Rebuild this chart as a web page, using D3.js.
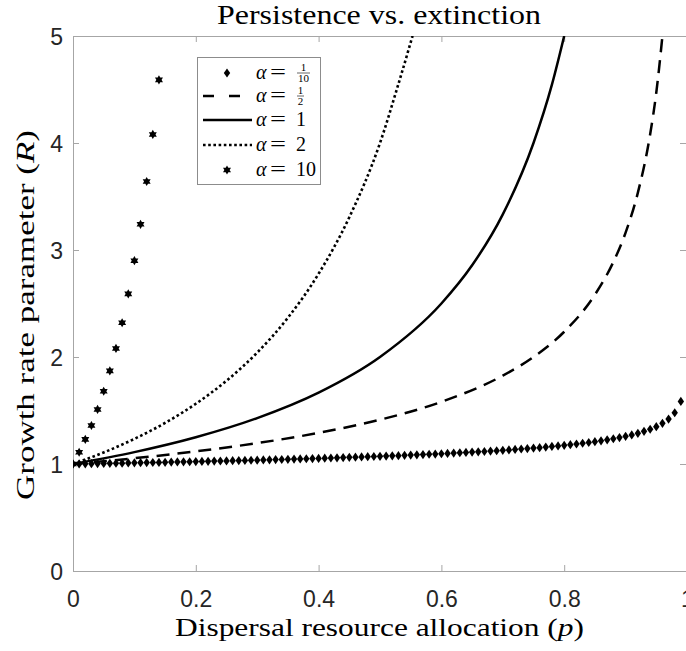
<!DOCTYPE html>
<html>
<head>
<meta charset="utf-8">
<script src="https://cdn.jsdelivr.net/npm/d3@7"></script>
<style>
  html, body { margin: 0; padding: 0; background: #fff; }
  svg { display: block; }
</style>
</head>
<body>
<div id="chart"></div>
<script>
// p grid and R values
const pTenth = [0,0.01,0.02,0.03,0.04,0.05,0.06,0.07,0.08,0.09,0.1,0.11,0.12,0.13,0.14,0.15,0.16,0.17,0.18,0.19,
  0.2,0.21,0.22,0.23,0.24,0.25,0.26,0.27,0.28,0.29,0.3,0.31,0.32,0.33,0.34,0.35,0.36,0.37,0.38,0.39,
  0.4,0.41,0.42,0.43,0.44,0.45,0.46,0.47,0.48,0.49,0.5,0.51,0.52,0.53,0.54,0.55,0.56,0.57,0.58,0.59,
  0.6,0.61,0.62,0.63,0.64,0.65,0.66,0.67,0.68,0.69,0.7,0.71,0.72,0.73,0.74,0.75,0.76,0.77,0.78,0.79,
  0.8,0.81,0.82,0.83,0.84,0.85,0.86,0.87,0.88,0.89,0.9,0.91,0.92,0.93,0.94,0.95,0.96,0.97,0.98,0.99];
const rTenth = [1.000,1.001,1.002,1.003,1.004,1.005,1.006,1.007,1.008,1.010,1.011,1.012,1.013,1.014,1.015,1.016,1.018,1.019,1.020,1.021,
  1.023,1.024,1.025,1.027,1.028,1.029,1.031,1.032,1.033,1.035,1.036,1.038,1.039,1.041,1.042,1.044,1.046,1.047,1.049,1.051,
  1.052,1.054,1.056,1.058,1.060,1.062,1.064,1.066,1.068,1.070,1.072,1.074,1.076,1.078,1.081,1.083,1.086,1.088,1.091,1.093,
  1.096,1.099,1.102,1.105,1.108,1.111,1.114,1.117,1.121,1.124,1.128,1.132,1.136,1.140,1.144,1.149,1.153,1.158,1.164,1.169,
  1.175,1.181,1.187,1.194,1.201,1.209,1.217,1.226,1.236,1.247,1.259,1.272,1.287,1.305,1.325,1.349,1.380,1.420,1.479,1.585];

const pHalf = [0,0.1,0.2,0.3,0.4,0.5,0.6,0.7,0.75,0.8,0.85,0.88,0.9,0.92,0.94,0.95,0.96];
const rHalf = [1,1.054,1.118,1.195,1.291,1.414,1.581,1.826,2.0,2.236,2.582,2.887,3.162,3.536,4.082,4.472,5.0];

const pOne = [0,0.1,0.2,0.3,0.4,0.5,0.6,0.65,0.7,0.75,0.78,0.8];
const rOne = [1,1.111,1.25,1.429,1.667,2.0,2.5,2.857,3.333,4.0,4.545,5.0];

const pTwo = [0,0.05,0.1,0.15,0.2,0.25,0.3,0.35,0.4,0.45,0.5,0.53,0.553];
const rTwo = [1,1.108,1.235,1.384,1.563,1.778,2.041,2.367,2.778,3.306,4.0,4.551,5.0];

const pTen = [0,0.01,0.02,0.03,0.04,0.05,0.06,0.07,0.08,0.09,0.1,0.11,0.12,0.13,0.14];
const rTen = [1,1.11,1.23,1.36,1.51,1.68,1.87,2.08,2.32,2.59,2.9,3.24,3.64,4.08,4.59];

const xTicks = [0, 0.2, 0.4, 0.6, 0.8, 1];
const yTicks = [0, 1, 2, 3, 4, 5];

const legendNames = ['1/10', '1/2', '1', '2', '10'];

const width = 686, height = 651;
const plot = { left: 73, right: 687, top: 36, bottom: 571 };

const svg = d3.select('#chart').append('svg')
  .attr('width', width)
  .attr('height', height);

const x = d3.scaleLinear().domain([0, 1]).range([plot.left, plot.right]);
const y = d3.scaleLinear().domain([0, 5]).range([plot.bottom, plot.top]);

const axisColor = '#a6a6a6';
const tickColor = '#262626';

svg.append('defs').append('clipPath').attr('id', 'clip')
  .append('rect')
  .attr('x', plot.left).attr('y', plot.top)
  .attr('width', plot.right - plot.left).attr('height', plot.bottom - plot.top);

// axes (ticks point inward, box on)
const styleAxis = g => {
  g.select('.domain').attr('stroke', axisColor).attr('stroke-width', 1);
  g.selectAll('.tick line').attr('stroke', axisColor);
};

svg.append('g')
  .attr('transform', `translate(0,${plot.bottom})`)
  .call(d3.axisBottom(x).tickValues(xTicks).tickSize(-6).tickSizeOuter(0).tickPadding(0).tickFormat(d3.format('')))
  .call(styleAxis)
  .call(g => g.selectAll('.tick text')
    .attr('y', 36).attr('dy', 0)
    .attr('fill', tickColor)
    .style('font-family', '"Liberation Sans", Arial, sans-serif')
    .style('font-size', '23px'));

svg.append('g')
  .attr('transform', `translate(0,${plot.top})`)
  .call(d3.axisTop(x).tickValues(xTicks).tickSize(-6).tickSizeOuter(0).tickFormat(''))
  .call(styleAxis);

svg.append('g')
  .attr('transform', `translate(${plot.left},0)`)
  .call(d3.axisLeft(y).tickValues(yTicks).tickSize(-6).tickSizeOuter(0).tickFormat(d3.format('d')))
  .call(styleAxis)
  .call(g => g.selectAll('.tick text')
    .attr('x', -10).attr('dy', '0.36em')
    .attr('fill', tickColor)
    .style('font-family', '"Liberation Sans", Arial, sans-serif')
    .style('font-size', '23px'));

svg.append('g')
  .attr('transform', `translate(${plot.right - 1},0)`)
  .call(d3.axisRight(y).tickValues(yTicks).tickSize(-6).tickSizeOuter(0).tickFormat(''))
  .call(styleAxis);

// marker shapes
const diamondPath = 'M0,-4.6L3.2,0L0,4.6L-3.2,0Z';
const hexagram = r => {
  const pts = a => d3.range(3).map(i => {
    const t = a + i * 2 * Math.PI / 3;
    return [r * Math.sin(t), -r * Math.cos(t)];
  });
  const tri = p => 'M' + p.map(q => q.join(',')).join('L') + 'Z';
  return tri(pts(0)) + tri(pts(Math.PI));
};

const plotArea = svg.append('g').attr('clip-path', 'url(#clip)');

const line = d3.line()
  .x(d => x(d[0]))
  .y(d => y(d[1]))
  .curve(d3.curveMonotoneX);

// alpha = 1/10 (diamonds)
plotArea.append('g').selectAll('path')
  .data(d3.zip(pTenth, rTenth))
  .join('path')
  .attr('d', diamondPath)
  .attr('transform', d => `translate(${x(d[0])},${y(d[1])})`)
  .attr('fill', '#000');

// alpha = 1/2 dashed
plotArea.append('path')
  .datum(d3.zip(pHalf, rHalf))
  .attr('d', line)
  .attr('fill', 'none').attr('stroke', '#000')
  .attr('stroke-width', 2.5)
  .attr('stroke-dasharray', '13,8');

// alpha = 1 solid
plotArea.append('path')
  .datum(d3.zip(pOne, rOne))
  .attr('d', line)
  .attr('fill', 'none').attr('stroke', '#000')
  .attr('stroke-width', 2.5);

// alpha = 2 dotted
plotArea.append('path')
  .datum(d3.zip(pTwo, rTwo))
  .attr('d', line)
  .attr('fill', 'none').attr('stroke', '#000')
  .attr('stroke-width', 2.6)
  .attr('stroke-dasharray', '2.6,2.6');

// alpha = 10 (hexagrams)
plotArea.append('g').selectAll('path')
  .data(d3.zip(pTen, rTen))
  .join('path')
  .attr('d', hexagram(4.6))
  .attr('transform', d => `translate(${x(d[0])},${y(d[1])})`)
  .attr('fill', '#000');

// title and axis labels
const serif = '"Liberation Serif", "Times New Roman", serif';

svg.append('text')
  .attr('x', 379).attr('y', 24)
  .attr('text-anchor', 'middle')
  .attr('textLength', 324).attr('lengthAdjust', 'spacingAndGlyphs')
  .style('font-family', serif).style('font-size', '27px')
  .text('Persistence vs. extinction');

const xl = svg.append('text')
  .attr('x', 379.5).attr('y', 636)
  .attr('text-anchor', 'middle')
  .attr('textLength', 409).attr('lengthAdjust', 'spacingAndGlyphs')
  .style('font-family', serif).style('font-size', '26px');
xl.append('tspan').text('Dispersal resource allocation (');
xl.append('tspan').style('font-style', 'italic').text('p');
xl.append('tspan').text(')');

const yl = svg.append('text')
  .attr('transform', 'translate(34,315) rotate(-90)')
  .attr('text-anchor', 'middle')
  .attr('textLength', 370).attr('lengthAdjust', 'spacingAndGlyphs')
  .style('font-family', serif).style('font-size', '26px');
yl.append('tspan').text('Growth rate parameter (');
yl.append('tspan').style('font-style', 'italic').text('R');
yl.append('tspan').text(')');

// legend
const legendY = [73, 96, 120, 145, 170];

const legend = svg.append('g');
legend.append('rect')
  .attr('x', 197.5).attr('y', 57.5)
  .attr('width', 123).attr('height', 127)
  .attr('fill', '#fff').attr('stroke', '#8c8c8c').attr('stroke-width', 1);

legendNames.forEach((name, i) => {
  const ly = legendY[i];
  if (i === 0) {
    legend.append('path').attr('d', diamondPath)
      .attr('transform', `translate(227,${ly})`).attr('fill', '#000');
  } else if (i === 4) {
    legend.append('path').attr('d', hexagram(4.6))
      .attr('transform', `translate(227,${ly})`).attr('fill', '#000');
  } else {
    legend.append('line')
      .attr('x1', 203).attr('x2', 252).attr('y1', ly).attr('y2', ly)
      .attr('stroke', '#000')
      .attr('stroke-width', i === 3 ? 2.6 : 2.5)
      .attr('stroke-dasharray', i === 1 ? '11,15' : i === 3 ? '2.6,2.6' : null);
  }
  const txt = (tx, s, italic, size, anchor) => legend.append('text')
    .attr('x', tx).attr('y', ly + 6)
    .attr('text-anchor', anchor || 'start')
    .style('font-family', serif).style('font-size', size + 'px')
    .style('font-style', italic ? 'italic' : 'normal')
    .text(s);
  txt(256, 'α', true, 20);
  txt(270, '=', false, 20).attr('textLength', 16).attr('lengthAdjust', 'spacingAndGlyphs');
  if (name.includes('/')) {
    const [num, den] = name.split('/');
    const fx = 297;
    const fw = den.length > 1 ? 13 : 7;
    txt(fx + fw / 2, num, false, 11, 'middle').attr('y', ly - 2);
    legend.append('line')
      .attr('x1', fx).attr('x2', fx + fw)
      .attr('y1', ly).attr('y2', ly)
      .attr('stroke', '#000').attr('stroke-width', 0.6);
    txt(fx + fw / 2, den, false, 11, 'middle').attr('y', ly + 9);
  } else {
    txt(296, name, false, 20);
  }
});
</script>
</body>
</html>
